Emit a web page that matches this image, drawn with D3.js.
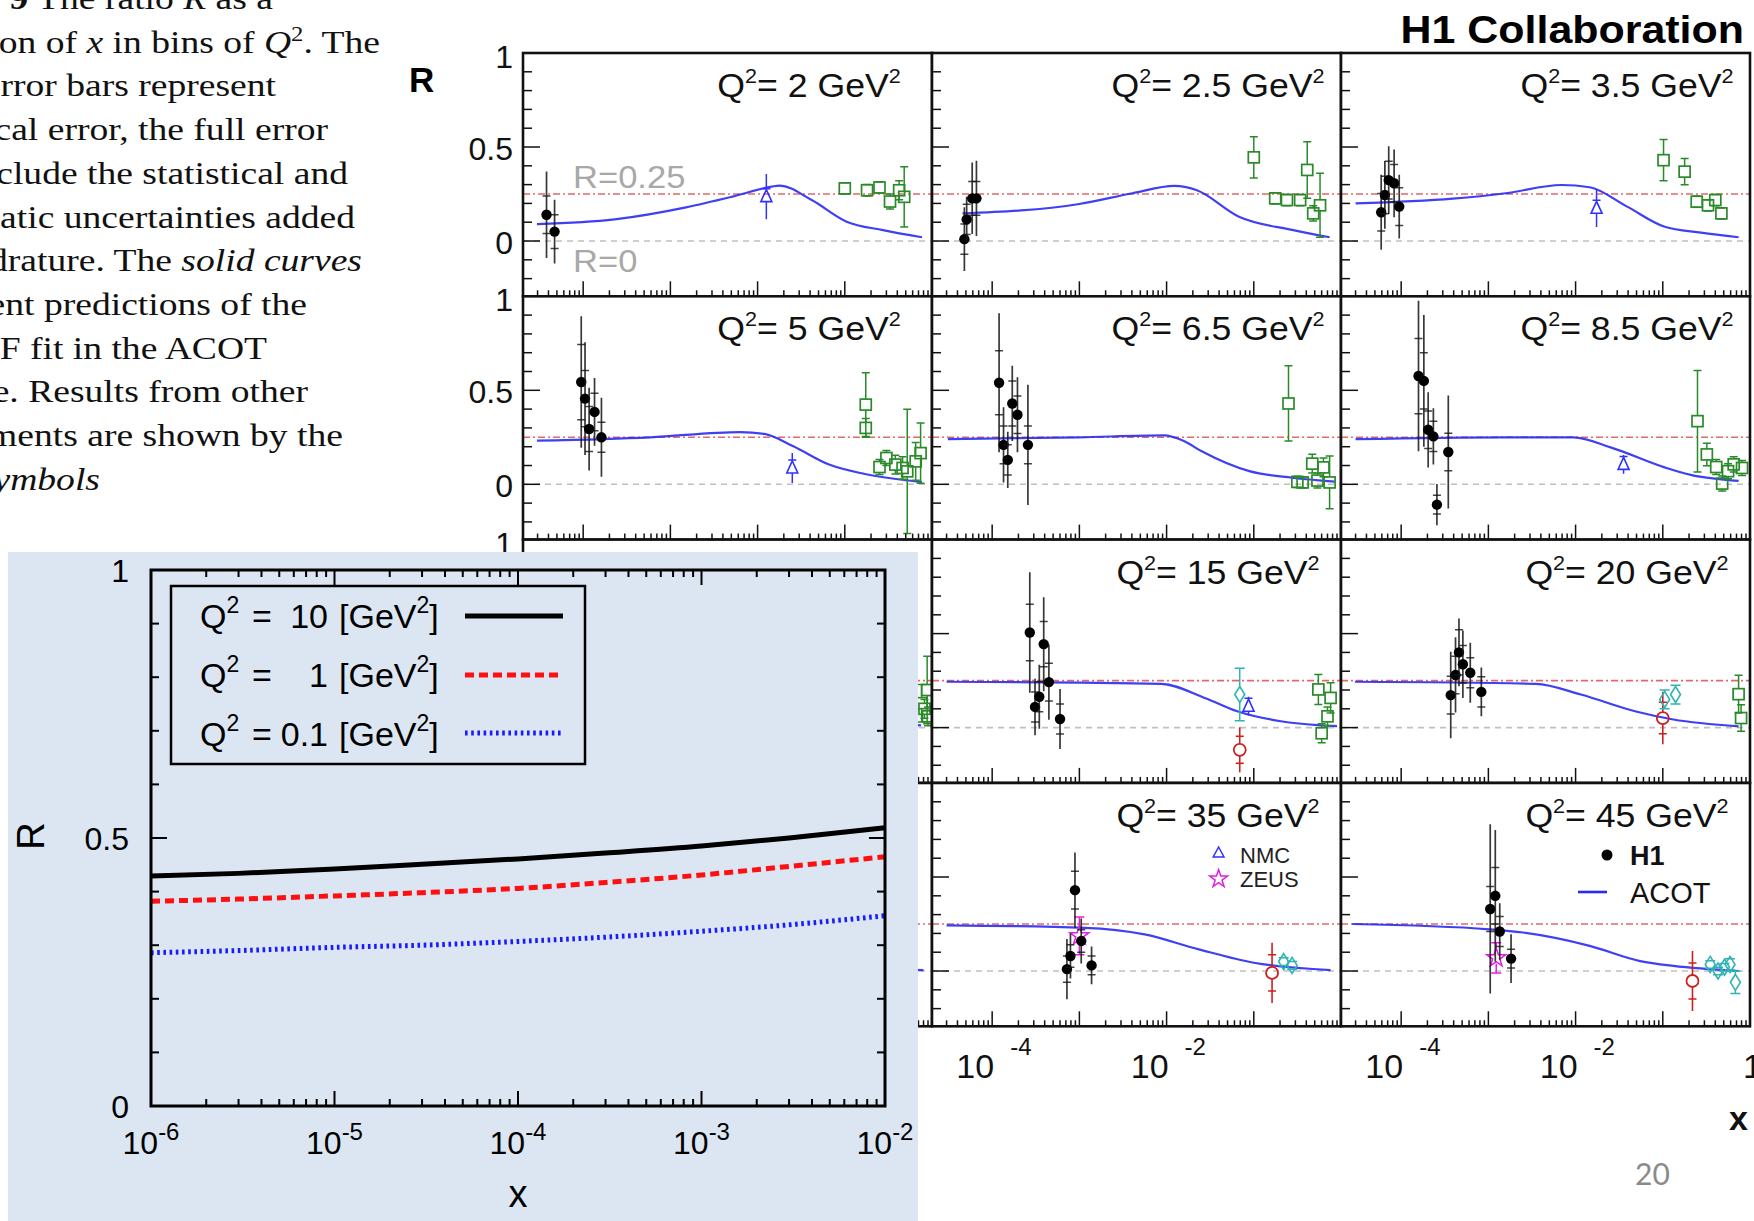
<!DOCTYPE html>
<html><head><meta charset="utf-8">
<script src="https://cdn.jsdelivr.net/npm/d3@7"></script>
<style>body{margin:0;background:#fff}svg{display:block}</style>
</head><body>
<svg id="c" width="1754" height="1221"></svg>
<script>
// ---------------- caption text (cut at left edge) ----------------
const captionLines = [
  [["Fig. 9", "b"], [" The ratio ", ""], ["R", "i"], [" as a", ""]],
  [["function of ", ""], ["x", "i"], [" in bins of ", ""], ["Q", "i"], ["2", "sup"], [". The", ""]],
  [["inner error bars represent", ""]],
  [["the statistical error, the full error", ""]],
  [["bars include the statistical and", ""]],
  [["systematic uncertainties added", ""]],
  [["in quadrature. The ", ""], ["solid curves", "i"]],
  [["represent predictions of the", ""]],
  [["HERAPDF fit in the ACOT", ""]],
  [["scheme. Results from other", ""]],
  [["experiments are shown by the", ""]],
  [["open symbols", "i"]]
];
const captionRightEdge = [273, 380, 276, 328, 348, 355, 362, 307, 267, 308, 343, 100];

// ---------------- H1 figure data ----------------
const panelQ2 = ["2", "2.5", "3.5", "5", "6.5", "8.5", "12", "15", "20", "25", "35", "45"];
// H1 points: [x, R, statErr, totalErr]
const h1Data = [
  [[3.8e-5, 0.14, 0.10, 0.23], [4.7e-5, 0.05, 0.09, 0.17]],
  [[4.8e-5, 0.01, 0.08, 0.17], [5.1e-5, 0.115, 0.08, 0.12], [5.9e-5, 0.227, 0.09, 0.19], [6.6e-5, 0.227, 0.09, 0.20]],
  [[5.9e-5, 0.153, 0.10, 0.20], [6.5e-5, 0.245, 0.10, 0.18], [7.2e-5, 0.324, 0.10, 0.18], [8.3e-5, 0.307, 0.10, 0.18], [9.5e-5, 0.183, 0.10, 0.17]],
  [[9.5e-5, 0.544, 0.20, 0.35], [1.05e-4, 0.456, 0.15, 0.30], [1.17e-4, 0.294, 0.12, 0.22], [1.35e-4, 0.385, 0.10, 0.18], [1.62e-4, 0.25, 0.08, 0.21]],
  [[1.2e-4, 0.54, 0.17, 0.37], [1.35e-4, 0.21, 0.10, 0.20], [1.51e-4, 0.13, 0.08, 0.15], [1.7e-4, 0.43, 0.12, 0.20], [1.95e-4, 0.37, 0.10, 0.20], [2.57e-4, 0.21, 0.10, 0.32]],
  [[1.58e-4, 0.576, 0.20, 0.40], [1.82e-4, 0.55, 0.15, 0.35], [2.04e-4, 0.29, 0.10, 0.20], [2.34e-4, 0.255, 0.08, 0.15], [2.57e-4, -0.108, 0.05, 0.11], [3.47e-4, 0.172, 0.10, 0.30]],
  [[1.9e-4, 0.42, 0.12, 0.25], [2.2e-4, 0.28, 0.10, 0.20], [2.6e-4, 0.33, 0.10, 0.20], [3.0e-4, 0.15, 0.08, 0.18], [4.0e-4, 0.22, 0.08, 0.20]],
  [[2.7e-4, 0.506, 0.15, 0.32], [3.1e-4, 0.11, 0.08, 0.15], [3.47e-4, 0.164, 0.08, 0.17], [3.9e-4, 0.444, 0.12, 0.25], [4.47e-4, 0.242, 0.10, 0.20], [6.0e-4, 0.046, 0.08, 0.16]],
  [[3.7e-4, 0.173, 0.10, 0.23], [4.2e-4, 0.28, 0.10, 0.20], [4.6e-4, 0.40, 0.12, 0.18], [5.1e-4, 0.337, 0.10, 0.18], [6.2e-4, 0.292, 0.08, 0.16], [8.3e-4, 0.19, 0.08, 0.13]],
  [[4.6e-4, 0.30, 0.10, 0.20], [5.2e-4, 0.20, 0.08, 0.15], [6.0e-4, 0.26, 0.08, 0.15], [8.0e-4, 0.12, 0.06, 0.12]],
  [[7.2e-4, 0.01, 0.07, 0.16], [7.9e-4, 0.08, 0.06, 0.12], [8.9e-4, 0.43, 0.10, 0.20], [1.05e-3, 0.16, 0.06, 0.12], [1.38e-3, 0.03, 0.05, 0.10]],
  [[1.05e-3, 0.33, 0.12, 0.45], [1.2e-3, 0.40, 0.15, 0.35], [1.35e-3, 0.21, 0.08, 0.15], [1.82e-3, 0.066, 0.05, 0.13]]
];
// other experiments: [x, R, err]
const nmcData = [
  [[0.0126, 0.236, 0.12]], [], [[0.0174, 0.174, 0.10]], [[0.025, 0.087, 0.08]], [], [[0.0355, 0.106, 0.05]],
  [[0.05, 0.12, 0.06]], [[0.087, 0.114, 0.05]], [], [], [], []
];
const squareData = [
  [[0.10, 0.28, 0.03], [0.18, 0.27, 0.03], [0.25, 0.285, 0.03], [0.33, 0.21, 0.04], [0.42, 0.27, 0.05], [0.48, 0.235, 0.16]],
  [[0.10, 0.445, 0.11], [0.176, 0.227, 0.03], [0.24, 0.218, 0.03], [0.34, 0.218, 0.03], [0.41, 0.378, 0.15], [0.48, 0.147, 0.04], [0.575, 0.19, 0.17]],
  [[0.102, 0.43, 0.11], [0.178, 0.369, 0.07], [0.245, 0.209, 0.03], [0.33, 0.19, 0.03], [0.40, 0.218, 0.03], [0.47, 0.147, 0.03]],
  [[0.174, 0.424, 0.17], [0.174, 0.30, 0.05], [0.25, 0.092, 0.04], [0.30, 0.14, 0.04], [0.38, 0.105, 0.05], [0.46, 0.087, 0.06], [0.52, 0.069, 0.33], [0.65, 0.122, 0.10], [0.74, 0.166, 0.16]],
  [[0.25, 0.43, 0.20], [0.316, 0.013, 0.03], [0.363, 0.01, 0.03], [0.468, 0.11, 0.05], [0.537, 0.02, 0.04], [0.63, 0.09, 0.05], [0.74, 0.01, 0.14]],
  [[0.25, 0.336, 0.27], [0.32, 0.159, 0.06], [0.41, 0.092, 0.04], [0.48, 0.004, 0.04], [0.56, 0.07, 0.04], [0.65, 0.106, 0.04], [0.81, 0.087, 0.04]],
  [[0.76, 0.13, 0.10], [0.82, 0.10, 0.05], [0.88, 0.20, 0.18], [0.90, 0.06, 0.05]],
  [[0.55, 0.203, 0.08], [0.60, -0.03, 0.05], [0.70, 0.06, 0.05], [0.76, 0.158, 0.08]],
  [[0.74, 0.178, 0.10], [0.79, 0.051, 0.07]],
  [], [], []
];
const circleData = [[], [], [], [], [], [], [], [[0.069, -0.118, 0.12]], [[0.10, 0.051, 0.14]], [[0.13, 0.02, 0.12]], [[0.162, -0.01, 0.16]], [[0.219, -0.053, 0.16]]];
const diamondData = [[], [], [], [], [], [], [], [[0.069, 0.176, 0.14]], [[0.105, 0.15, 0.05], [0.14, 0.176, 0.05]], [[0.17, 0.06, 0.03]],
  [[0.22, 0.05, 0.02], [0.275, 0.03, 0.02]],
  [[0.35, 0.035, 0.02], [0.43, 0.0, 0.02], [0.51, 0.02, 0.02], [0.59, 0.035, 0.03], [0.68, -0.06, 0.06]]];
const zeusData = [[], [], [], [], [], [], [], [], [], [], [[1.0e-3, 0.187, 0.10]], [[1.23e-3, 0.07, 0.08]]];
// ACOT curves: [x, R]
const acotCurves = [
  [[2.95e-5, 0.09], [2.29e-4, 0.115], [1.51e-3, 0.179], [5.13e-3, 0.236], [0.0145, 0.289], [0.0178, 0.295], [0.0417, 0.218], [0.105, 0.103], [0.275, 0.058], [0.767, 0.02]],
  [[4.57e-5, 0.147], [1.0e-3, 0.197], [4.07e-3, 0.254], [0.0123, 0.293], [0.0219, 0.271], [0.0676, 0.129], [0.275, 0.059], [0.74, 0.02]],
  [[3.0e-5, 0.20], [3.9e-4, 0.225], [1.58e-3, 0.254], [6.9e-3, 0.298], [0.0145, 0.286], [0.039, 0.183], [0.105, 0.076], [0.275, 0.045], [0.74, 0.02]],
  [[2.95e-5, 0.232], [5.9e-4, 0.25], [6.3e-3, 0.278], [0.012, 0.268], [0.0257, 0.202], [0.066, 0.105], [0.17, 0.055], [0.767, 0.012]],
  [[3.1e-5, 0.24], [1.0e-3, 0.25], [9.3e-3, 0.26], [0.0158, 0.23], [0.025, 0.177], [0.089, 0.07], [0.275, 0.035], [0.85, 0.014]],
  [[3.0e-5, 0.24], [1.58e-3, 0.25], [9.5e-3, 0.25], [0.0257, 0.195], [0.105, 0.09], [0.209, 0.05], [0.74, 0.018]],
  [[3.0e-5, 0.244], [5.0e-3, 0.235], [0.02, 0.16], [0.06, 0.085], [0.2, 0.035], [0.75, 0.012]],
  [[3.0e-5, 0.244], [8.7e-3, 0.233], [0.0275, 0.158], [0.0646, 0.087], [0.204, 0.034], [0.6, 0.012], [0.9, 0.008]],
  [[2.95e-5, 0.244], [3.5e-3, 0.233], [0.0115, 0.176], [0.048, 0.087], [0.132, 0.043], [0.74, 0.007]],
  [[3.0e-5, 0.245], [2.0e-3, 0.228], [0.012, 0.15], [0.05, 0.06], [0.15, 0.025], [0.8, 0.005]],
  [[3.0e-5, 0.243], [1.15e-3, 0.23], [5.6e-3, 0.195], [0.0234, 0.115], [0.1, 0.044], [0.76, 0.005]],
  [[2.75e-5, 0.25], [1.02e-3, 0.222], [2.5e-3, 0.205], [0.0145, 0.134], [0.055, 0.053], [0.132, 0.027], [0.74, 0.0]]
];
const gridYLabels = ["0", "0.5", "1"];
const gridYLabelValues = [0, 0.5, 1];
const gridXLabelExp = ["-4", "-2"];

// ---------------- inset data ----------------
const insetX = [1e-6, 3e-6, 1e-5, 3e-5, 1e-4, 3e-4, 1e-3, 3e-3, 1e-2];
const rQ2_10 = [0.429, 0.434, 0.442, 0.451, 0.461, 0.472, 0.485, 0.500, 0.519];
const rQ2_1 = [0.382, 0.386, 0.392, 0.398, 0.406, 0.417, 0.431, 0.447, 0.465];
const rQ2_01 = [0.286, 0.290, 0.296, 0.300, 0.307, 0.315, 0.326, 0.338, 0.355];
const insetXTickExp = ["-6", "-5", "-4", "-3", "-2"];
const insetYTickLabels = ["0", "0.5", "1"];
const insetLegendNums = ["10", "1", "0.1"];

// =====================================================
const svg = d3.select("#c");
const defs = svg.append("defs");
const SANS = "'Liberation Sans', Arial, sans-serif";
const SERIF = "'Liberation Serif', 'Times New Roman', serif";

function richText(parent, x, y, segs, opt) {
  const t = parent.append("text")
    .attr("font-family", opt.family).attr("font-size", opt.size)
    .attr("text-anchor", opt.anchor || "start").attr("fill", opt.fill || "#000");
  if (opt.sx) t.attr("x", 0).attr("y", 0).attr("transform", `translate(${x},${y}) scale(${opt.sx},1)`);
  else t.attr("x", x).attr("y", y);
  if (opt.weight) t.attr("font-weight", opt.weight);
  let raised = false;
  segs.forEach(([s, st]) => {
    const ts = t.append("tspan").text(s);
    if (st === "sup") { ts.attr("font-size", opt.supSize).attr("dy", -opt.raise); raised = true; }
    else if (raised) { ts.attr("dy", opt.raise); raised = false; }
    if (st === "i") ts.attr("font-style", "italic");
    if (st === "b") ts.attr("font-weight", "bold");
  });
  return t;
}
function wideText(parent, x, y, s, sx) {
  return parent.append("text").attr("x", 0).attr("y", 0)
    .attr("transform", `translate(${x},${y}) scale(${sx},1)`).text(s);
}

// ---------------- caption ----------------
captionLines.forEach((segs, k) => {
  richText(svg, captionRightEdge[k], 9 + 43.7 * k, segs,
    { family: SERIF, size: 32, anchor: "end", supSize: 21, raise: 12, fill: "#111", sx: 1.175 });
});

// ---------------- H1 grid ----------------
const colL = [523, 932, 1341], rowT = [53, 296.3, 539.6, 783];
const PW = 409, PH = 243.3;
const XMIN = Math.pow(10, -4.69), RMIN = -0.294;

svg.append("text").attr("x", 409).attr("y", 92).attr("font-family", SANS).attr("font-size", 35)
  .attr("font-weight", "bold").text("R");
wideText(svg, 1744, 43, "H1 Collaboration", 1.13).attr("font-family", SANS).attr("font-size", 38)
  .attr("font-weight", "bold").attr("text-anchor", "end");

function vbar(g, px, yTop, yBot, gapTop, gapBot, color, cap, w) {
  if (gapTop - yTop > 0.5) g.append("line").attr("x1", px).attr("x2", px).attr("y1", yTop).attr("y2", gapTop).attr("stroke", color).attr("stroke-width", w);
  if (yBot - gapBot > 0.5) g.append("line").attr("x1", px).attr("x2", px).attr("y1", gapBot).attr("y2", yBot).attr("stroke", color).attr("stroke-width", w);
  if (cap > 0) {
    [yTop, yBot].forEach(yy => g.append("line").attr("x1", px - cap).attr("x2", px + cap).attr("y1", yy).attr("y2", yy).attr("stroke", color).attr("stroke-width", w));
  }
}

panelQ2.forEach((q, i) => {
  const c = i % 3, r = Math.floor(i / 3);
  const x0 = colL[c], y0 = rowT[r];
  const x = d3.scaleLog().domain([XMIN, 1]).range([x0, x0 + PW]);
  const y = d3.scaleLinear().domain([RMIN, 1]).range([y0 + PH, y0]);
  const g = svg.append("g");
  g.append("rect").attr("x", x0).attr("y", y0).attr("width", PW).attr("height", PH).attr("fill", "#fff");
  const cid = "clip" + i;
  defs.append("clipPath").attr("id", cid).append("rect").attr("x", x0).attr("y", y0).attr("width", PW).attr("height", PH);
  const inner = g.append("g").attr("clip-path", `url(#${cid})`);

  inner.append("line").attr("x1", x0).attr("x2", x0 + PW).attr("y1", y(0.25)).attr("y2", y(0.25))
    .attr("stroke", "#e06a6a").attr("stroke-width", 1.6).attr("stroke-dasharray", "7,3,2,3");
  inner.append("line").attr("x1", x0).attr("x2", x0 + PW).attr("y1", y(0)).attr("y2", y(0))
    .attr("stroke", "#c0c0c0").attr("stroke-width", 1.6).attr("stroke-dasharray", "6,5");

  inner.append("path").datum(acotCurves[i])
    .attr("d", d3.line().x(d => x(d[0])).y(d => y(d[1])).curve(d3.curveMonotoneX))
    .attr("fill", "none").attr("stroke", "#2a2af2").attr("stroke-width", 2.2).attr("stroke-opacity", 0.9);

  squareData[i].forEach(([xv, rv, e]) => {
    const px = x(xv), py = y(rv), s = 5.5, col = "#2a8a2a";
    vbar(inner, px, y(rv + e), y(rv - e), py - s, py + s, col, 4, 1.5);
    inner.append("rect").attr("x", px - s).attr("y", py - s).attr("width", 2 * s).attr("height", 2 * s)
      .attr("fill", "none").attr("stroke", col).attr("stroke-width", 1.7);
  });
  nmcData[i].forEach(([xv, rv, e]) => {
    const px = x(xv), py = y(rv), col = "#3030ff";
    vbar(inner, px, y(rv + e), y(rv - e), py - 7, py + 5, col, 0, 1.5);
    inner.append("line").attr("x1", px - 4).attr("x2", px + 4).attr("y1", py - 8).attr("y2", py - 8).attr("stroke", col).attr("stroke-width", 1.5);
    inner.append("path").attr("d", `M${px},${py - 7}L${px + 5.5},${py + 5}L${px - 5.5},${py + 5}Z`)
      .attr("fill", "none").attr("stroke", col).attr("stroke-width", 1.6);
  });
  circleData[i].forEach(([xv, rv, e]) => {
    const px = x(xv), py = y(rv), col = "#cc2020";
    vbar(inner, px, y(rv + e), y(rv - e), py - 6, py + 6, col, 0, 1.6);
    [rv + e * 0.6, rv - e * 0.6].forEach(v => inner.append("line").attr("x1", px - 4).attr("x2", px + 4).attr("y1", y(v)).attr("y2", y(v)).attr("stroke", col).attr("stroke-width", 1.5));
    inner.append("circle").attr("cx", px).attr("cy", py).attr("r", 6).attr("fill", "none").attr("stroke", col).attr("stroke-width", 1.8);
  });
  diamondData[i].forEach(([xv, rv, e]) => {
    const px = x(xv), py = y(rv), col = "#2fb3b3";
    vbar(inner, px, y(rv + e), y(rv - e), py - 8, py + 8, col, 5, 1.5);
    inner.append("path").attr("d", `M${px},${py - 8}L${px + 5},${py}L${px},${py + 8}L${px - 5},${py}Z`)
      .attr("fill", "none").attr("stroke", col).attr("stroke-width", 1.6);
  });
  zeusData[i].forEach(([xv, rv, e]) => {
    const px = x(xv), py = y(rv), col = "#e020e0";
    vbar(inner, px, y(rv + e), y(rv - e), py - 7, py + 6, col, 5, 1.5);
    inner.append("path").attr("d", d3.symbol(d3.symbolStar, 110)()).attr("transform", `translate(${px},${py})`)
      .attr("fill", "none").attr("stroke", col).attr("stroke-width", 1.5);
  });
  h1Data[i].forEach(([xv, rv, st, tot]) => {
    const px = x(xv), py = y(rv), col = "#151515";
    inner.append("line").attr("x1", px).attr("x2", px).attr("y1", y(rv + tot)).attr("y2", y(rv - tot))
      .attr("stroke", col).attr("stroke-width", 1.7).attr("stroke-opacity", 0.85);
    [rv + st, rv - st].forEach(v => inner.append("line").attr("x1", px - 4).attr("x2", px + 4).attr("y1", y(v)).attr("y2", y(v))
      .attr("stroke", col).attr("stroke-width", 1.5).attr("stroke-opacity", 0.8));
    inner.append("circle").attr("cx", px).attr("cy", py).attr("r", 5.2).attr("fill", "#000");
  });

  const tk = g.append("g").attr("stroke", "#111").attr("stroke-width", 1.5);
  for (let e = -5; e <= -1; e++) {
    for (let m = 1; m <= 9; m++) {
      const v = m * Math.pow(10, e);
      if (v < XMIN) continue;
      const px = x(v), L = m === 1 ? 15 : 6;
      tk.append("line").attr("x1", px).attr("x2", px).attr("y1", y0 + PH).attr("y2", y0 + PH - L);
    }
  }
  for (let k = -2; k <= 10; k++) {
    const v = k / 10, py = y(v), L = (k % 5 === 0) ? 17 : 9;
    tk.append("line").attr("x1", x0).attr("x2", x0 + L).attr("y1", py).attr("y2", py);
  }
  g.append("rect").attr("x", x0).attr("y", y0).attr("width", PW).attr("height", PH)
    .attr("fill", "none").attr("stroke", "#111").attr("stroke-width", 2.6);

  richText(g, x0 + 286, y0 + 44, [["Q", ""], ["2", "sup"], ["= " + q + " GeV", ""], ["2", "sup"]],
    { family: SANS, size: 33, anchor: "middle", supSize: 20, raise: 14, fill: "#111", sx: 1.08 });

  if (c === 0) {
    gridYLabels.forEach((lab, k) => {
      const v = gridYLabelValues[k];
      const py = v === 1 ? y0 + 15 : y(v) + 13;
      g.append("text").attr("x", 513).attr("y", py).attr("text-anchor", "end")
        .attr("font-family", SANS).attr("font-size", 32).attr("fill", "#111").text(lab);
    });
  }
  if (i === 0) {
    wideText(g, 573, 188, "R=0.25", 1.08).attr("font-family", SANS).attr("font-size", 32).attr("fill", "#a8a8a8");
    wideText(g, 573, 272, "R=0", 1.08).attr("font-family", SANS).attr("font-size", 32).attr("fill", "#a8a8a8");
  }
  if (r === 3) {
    [1e-4, 1e-2].forEach((v, k) => {
      const px = x(v);
      g.append("text").attr("x", px + 2).attr("y", 1078).attr("text-anchor", "end")
        .attr("font-family", SANS).attr("font-size", 34).attr("fill", "#111").text("10");
      g.append("text").attr("x", px + 18).attr("y", 1055)
        .attr("font-family", SANS).attr("font-size", 24).attr("fill", "#111").text(gridXLabelExp[k]);
    });
    if (c === 2) {
      g.append("text").attr("x", 1743).attr("y", 1078).attr("font-family", SANS).attr("font-size", 34)
        .attr("fill", "#111").text("1");
    }
  }
  if (i === 10) {
    g.append("path").attr("d", `M1218.6,847L1224,857L1213.2,857Z`).attr("fill", "none").attr("stroke", "#3030ff").attr("stroke-width", 1.5);
    g.append("text").attr("x", 1240).attr("y", 863).attr("font-family", SANS).attr("font-size", 22).attr("fill", "#222").text("NMC");
    g.append("path").attr("d", d3.symbol(d3.symbolStar, 100)()).attr("transform", "translate(1218.6,879)")
      .attr("fill", "none").attr("stroke", "#e020e0").attr("stroke-width", 1.5);
    g.append("text").attr("x", 1240).attr("y", 887).attr("font-family", SANS).attr("font-size", 22).attr("fill", "#222").text("ZEUS");
  }
  if (i === 11) {
    g.append("circle").attr("cx", 1607).attr("cy", 855).attr("r", 5.5).attr("fill", "#000");
    g.append("text").attr("x", 1630).attr("y", 865).attr("font-family", SANS).attr("font-size", 27).attr("font-weight", "bold").attr("fill", "#111").text("H1");
    g.append("line").attr("x1", 1578).attr("x2", 1607).attr("y1", 892).attr("y2", 892).attr("stroke", "#2a2af2").attr("stroke-width", 2.6);
    g.append("text").attr("x", 1630).attr("y", 903).attr("font-family", SANS).attr("font-size", 29).attr("fill", "#111").text("ACOT");
  }
});

svg.append("text").attr("x", 1748).attr("y", 1130).attr("text-anchor", "end").attr("font-family", SANS)
  .attr("font-size", 34).attr("font-weight", "bold").attr("fill", "#111").text("x");

// ---------------- inset ----------------
const ins = svg.append("g");
ins.append("rect").attr("x", 8).attr("y", 552).attr("width", 910).attr("height", 669).attr("fill", "#dce6f2");
const ix = d3.scaleLog().domain([1e-6, 1e-2]).range([151, 885]);
const iy = d3.scaleLinear().domain([0, 1]).range([1106, 570]);

const itk = ins.append("g").attr("stroke", "#000").attr("stroke-width", 2);
for (let e = -6; e <= -2; e++) {
  for (let m = 1; m <= 9; m++) {
    const v = m * Math.pow(10, e);
    if (v > 1e-2 * 1.0001) continue;
    const px = ix(v), L = m === 1 ? 15 : 7;
    itk.append("line").attr("x1", px).attr("x2", px).attr("y1", 1106).attr("y2", 1106 - L);
    itk.append("line").attr("x1", px).attr("x2", px).attr("y1", 570).attr("y2", 570 + L);
  }
}
for (let k = 0; k <= 10; k++) {
  const py = iy(k / 10), L = (k % 5 === 0) ? 16 : 8;
  itk.append("line").attr("x1", 151).attr("x2", 151 + L).attr("y1", py).attr("y2", py);
  itk.append("line").attr("x1", 885 - L).attr("x2", 885).attr("y1", py).attr("y2", py);
}

const curveGen = d3.line().x((d, k) => ix(insetX[k])).y(d => iy(d)).curve(d3.curveMonotoneX);
ins.append("path").datum(rQ2_01).attr("d", curveGen).attr("fill", "none").attr("stroke", "#1a1aff")
  .attr("stroke-width", 5).attr("stroke-dasharray", "2.6,3.6");
ins.append("path").datum(rQ2_1).attr("d", curveGen).attr("fill", "none").attr("stroke", "#ff1010")
  .attr("stroke-width", 5).attr("stroke-dasharray", "9,5");
ins.append("path").datum(rQ2_10).attr("d", curveGen).attr("fill", "none").attr("stroke", "#000")
  .attr("stroke-width", 5);

ins.append("rect").attr("x", 151).attr("y", 570).attr("width", 734).attr("height", 536)
  .attr("fill", "none").attr("stroke", "#000").attr("stroke-width", 3);

insetYTickLabels.forEach((lab, k) => {
  ins.append("text").attr("x", 129).attr("y", iy(k * 0.5) + 11.5).attr("text-anchor", "end")
    .attr("font-family", SANS).attr("font-size", 32).attr("fill", "#000").text(lab);
});
insetXTickExp.forEach((ex, k) => {
  richText(ins, ix(Math.pow(10, -6 + k)), 1154, [["10", ""], [ex, "sup"]],
    { family: SANS, size: 32, anchor: "middle", supSize: 24, raise: 14, fill: "#000" });
});
ins.append("text").attr("transform", "translate(44,836) rotate(-90)").attr("text-anchor", "middle")
  .attr("font-family", SANS).attr("font-size", 38).attr("fill", "#000").text("R");
ins.append("text").attr("x", 518).attr("y", 1207).attr("text-anchor", "middle")
  .attr("font-family", SANS).attr("font-size", 38).attr("fill", "#000").text("x");

ins.append("rect").attr("x", 171).attr("y", 586).attr("width", 414).attr("height", 178)
  .attr("fill", "none").attr("stroke", "#000").attr("stroke-width", 2.5);
const legBase = [628, 687, 746], legLineY = [616, 675, 733];
const legStyles = [
  { stroke: "#000", dash: null },
  { stroke: "#ff1010", dash: "9,5" },
  { stroke: "#1a1aff", dash: "2.6,3.6" }
];
insetLegendNums.forEach((num, k) => {
  const yb = legBase[k];
  richText(ins, 200, yb, [["Q", ""], ["2", "sup"]], { family: SANS, size: 34, supSize: 23, raise: 15 });
  ins.append("text").attr("x", 252).attr("y", yb).attr("font-family", SANS).attr("font-size", 34).text("=");
  ins.append("text").attr("x", 328).attr("y", yb).attr("text-anchor", "end").attr("font-family", SANS).attr("font-size", 34).text(num);
  richText(ins, 339, yb, [["[GeV", ""], ["2", "sup"], ["]", ""]], { family: SANS, size: 34, supSize: 23, raise: 15 });
  const ln = ins.append("line").attr("x1", 465).attr("x2", 563).attr("y1", legLineY[k]).attr("y2", legLineY[k])
    .attr("stroke", legStyles[k].stroke).attr("stroke-width", 5);
  if (legStyles[k].dash) ln.attr("stroke-dasharray", legStyles[k].dash);
});

svg.append("text").attr("x", 1635).attr("y", 1185).attr("font-family", "Lato, 'Open Sans', sans-serif")
  .attr("font-size", 30).attr("fill", "#8a8a8a").text("20");
</script>
</body></html>
